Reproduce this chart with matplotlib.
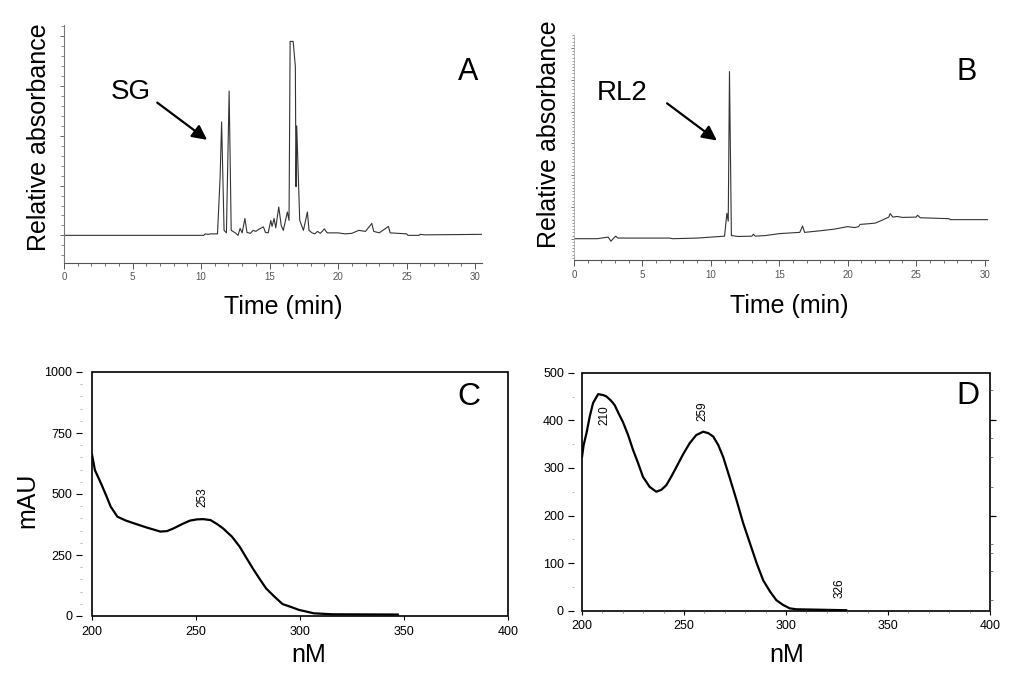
import matplotlib
matplotlib.use("Agg")
import matplotlib.pyplot as plt
from matplotlib.patches import Rectangle
from matplotlib.ticker import MultipleLocator, FixedLocator
import numpy as np

plt.rcParams['font.family'] = ['Liberation Sans', 'DejaVu Sans']

# ---------------- data ----------------
# Panel A chromatogram (time in min, relative absorbance in major-tick units)
a_time = [0, 10.2, 10.3, 10.5, 10.7, 11.2, 11.39, 11.5, 11.68, 11.85, 12.05, 12.2, 12.5, 12.7,
          12.85, 13.0, 13.2, 13.35, 13.6, 13.8, 14.0, 14.2, 14.55, 14.7, 14.9, 15.09, 15.18,
          15.33, 15.45, 15.67, 15.85, 16.0, 16.3, 16.42, 16.5, 16.72, 16.88, 16.93, 16.98,
          17.2, 17.47, 17.76, 17.88, 18.1, 18.3, 18.5, 18.7, 19.0, 19.2, 20.0, 20.5, 21.0,
          21.5, 22.0, 22.46, 22.6, 23.0, 23.67, 23.8, 25.0, 25.1, 25.9, 26.0, 26.3, 30.5]
a_abs = [0, 0, 0.03, 0.02, 0.03, 0.03, 1.16, 2.28, 0.1, 0.05, 2.9, 0.1, 0.05, 0.0,
         0.14, 0.05, 0.34, 0.06, 0.04, 0.1, 0.08, 0.12, 0.17, 0.06, 0.05, 0.3, 0.18,
         0.34, 0.15, 0.57, 0.2, 0.1, 0.47, 0.3, 3.9, 3.9, 3.4, 0.98, 2.2,
         0.3, 0.1, 0.47, 0.1, 0.05, 0.03, 0.08, 0.04, 0.13, 0.05, 0.05, 0.03, 0.04,
         0.1, 0.08, 0.24, 0.08, 0.05, 0.18, 0.05, 0.03, 0.0, 0.0, 0.02, 0.01, 0.02]

# Panel B chromatogram
b_time = [0, 1.7, 2.0, 2.5, 2.7, 2.9, 3.05, 3.2, 7.0, 7.2, 9.0, 11.0, 11.17, 11.27, 11.36,
          11.5, 12.0, 13.0, 13.1, 13.25, 14.0, 15.0, 16.5, 16.7, 16.85, 18.0, 19.0, 20.0,
          20.5, 20.8, 20.9, 21.5, 22.0, 22.5, 23.0, 23.1, 23.3, 23.6, 24.0, 25.0, 25.1,
          25.3, 27.4, 27.5, 30.3]
b_abs = [0, 0, 0.02, 0.05, -0.08, 0.02, 0.08, 0.02, 0.02, 0.0, 0.02, 0.08, 0.8, 0.55, 5.26,
         0.1, 0.07, 0.08, 0.14, 0.08, 0.1, 0.16, 0.2, 0.4, 0.2, 0.25, 0.3, 0.38,
         0.35, 0.38, 0.45, 0.47, 0.49, 0.58, 0.68, 0.79, 0.68, 0.7, 0.67, 0.68, 0.74,
         0.66, 0.63, 0.6, 0.6]

# Panel C UV spectrum (nm, mAU)
c_nm = [200, 201.4, 204.3, 206.7, 209, 212.2, 216.3, 220.1, 226.5, 232.9, 236.1, 239.2,
        243.4, 247.1, 250.5, 253.5, 257, 260.1, 263, 267.3, 271, 274.1, 277.3, 280.6,
        283.7, 288, 291.6, 296, 299.5, 306.7, 315.4, 347]
c_mau = [662, 598, 544, 496, 448, 407, 391, 380, 362, 346, 348, 359,
         377, 391, 396, 397, 393, 377, 359, 325, 284, 240, 195, 152,
         113, 77, 49, 36, 25, 11, 7, 6]

# Panel D UV spectrum (nm, mAU)
d_nm = [200, 200.8, 202.2, 203.8, 205.4, 207.9, 210.4, 212, 214.3, 216, 218, 220, 222.6,
        225, 227.5, 229.9, 233.2, 236.4, 238.9, 241.4, 243.8, 246.3, 249.6, 252.8, 256,
        259.4, 261.9, 264.3, 266.8, 269.2, 272.5, 275.7, 279, 282.3, 285.6, 288.8, 292.2,
        295.3, 298.6, 301.8, 304.9, 329.5]
d_mau = [323, 348, 373, 408, 436, 455, 453, 450, 441, 432, 414, 397, 369,
         338, 310, 281, 260, 250, 254, 264, 282, 302, 329, 352, 369,
         376, 373, 366, 348, 323, 278, 233, 184, 142, 100, 64, 40,
         22, 12, 5, 3, 1]

c_peaks = [(253, 486)]
d_peaks = [(211, 410), (259, 420), (326, 48)]
d_peak_labels = ['210', '259', '326']

# ---------------- figure ----------------
W, H = 1015, 684
fig = plt.figure(figsize=(W / 100, H / 100), dpi=100)

def frac(l, t, r, b):
    return [l / W, 1 - b / H, (r - l) / W, (b - t) / H]

gray_tick = '#555555'
LABEL_FS = 18
arrow_kw = dict(arrowstyle='-|>', lw=1.6, color='black', mutation_scale=22, shrinkA=0, shrinkB=0)

# ---- Panel A ----
axA = fig.add_axes(frac(64, 25, 482, 262.7))
axA.plot(a_time, a_abs, color='#333333', lw=0.8)
axA.set_xlim(0, 30.5)
axA.set_ylim(-0.55, 4.23)
for s in ['top', 'right']:
    axA.spines[s].set_visible(False)
axA.spines['left'].set_color('#777777')
axA.spines['bottom'].set_color('#555555')
axA.spines['left'].set_linewidth(0.8)
axA.spines['bottom'].set_linewidth(0.8)
axA.xaxis.set_major_locator(MultipleLocator(5))
axA.xaxis.set_minor_locator(MultipleLocator(1))
axA.yaxis.set_major_locator(MultipleLocator(1))
axA.yaxis.set_minor_locator(MultipleLocator(0.2))
axA.tick_params(axis='x', which='major', length=4, width=0.7, color='#555555', labelsize=7, labelcolor=gray_tick, pad=3)
axA.tick_params(axis='x', which='minor', length=2, width=0.6, color='#555555')
axA.tick_params(axis='y', which='major', length=3, width=0.7, color='#666666', labelleft=False)
axA.tick_params(axis='y', which='minor', length=2, width=0.6, color='#777777')
axA.text(-0.06, 0.53, 'Relative absorbance', rotation=90, ha='center', va='center',
         fontsize=LABEL_FS, transform=axA.transAxes)
axA.text(0.524, -0.186, 'Time (min)', ha='center', va='center', fontsize=LABEL_FS, transform=axA.transAxes)
axA.text(29.5, 3.29, 'A', ha='center', va='center', fontsize=22)
axA.text(4.9, 2.89, 'SG', ha='center', va='center', fontsize=20)
axA.annotate('', xy=(10.44, 1.92), xytext=(6.8, 2.67), arrowprops=arrow_kw)

# ---- Panel B ----
axB = fig.add_axes(frac(574, 35, 988, 260))
axB.plot(b_time, b_abs, color='#333333', lw=0.8)
axB.set_xlim(0, 30.25)
axB.set_ylim(-0.67, 6.41)
for s in ['top', 'right']:
    axB.spines[s].set_visible(False)
axB.spines['left'].set_color('#aaaaaa')
axB.spines['left'].set_linewidth(0.6)
axB.spines['bottom'].set_color('#555555')
axB.spines['bottom'].set_linewidth(0.8)
axB.xaxis.set_major_locator(MultipleLocator(5))
axB.xaxis.set_minor_locator(MultipleLocator(1))
axB.yaxis.set_major_locator(MultipleLocator(1))
axB.yaxis.set_minor_locator(MultipleLocator(0.1))
axB.tick_params(axis='x', which='major', length=4, width=0.7, color='#555555', labelsize=7, labelcolor=gray_tick, pad=3)
axB.tick_params(axis='x', which='minor', length=2, width=0.6, color='#555555')
axB.tick_params(axis='y', which='major', length=2.5, width=0.7, color='#777777', labelleft=False)
axB.tick_params(axis='y', which='minor', length=1.2, width=0.6, color='#888888')
axB.text(-0.06, 0.56, 'Relative absorbance', rotation=90, ha='center', va='center',
         fontsize=LABEL_FS, transform=axB.transAxes)
axB.text(0.52, -0.203, 'Time (min)', ha='center', va='center', fontsize=LABEL_FS, transform=axB.transAxes)
axB.text(28.7, 5.24, 'B', ha='center', va='center', fontsize=22)
axB.text(3.5, 4.57, 'RL2', ha='center', va='center', fontsize=20)
axB.annotate('', xy=(10.44, 3.09), xytext=(6.8, 4.26), arrowprops=arrow_kw)

# ---- Panel C ----
axC = fig.add_axes(frac(92, 372, 508, 616))
axC.plot(c_nm, c_mau, color='black', lw=1.6)
axC.set_xlim(200, 400)
axC.set_ylim(0, 1000)
for s in ['top', 'right', 'bottom', 'left']:
    axC.spines[s].set_visible(False)
axC.spines['left'].set_position(('outward', 7))
axC.add_patch(Rectangle((0, 0), 1, 1, transform=axC.transAxes, fill=False, lw=1.2, ec='black', clip_on=False))
axC.xaxis.set_major_locator(MultipleLocator(50))
axC.yaxis.set_major_locator(MultipleLocator(250))
axC.yaxis.set_minor_locator(MultipleLocator(50))
axC.tick_params(axis='x', which='major', length=3, width=0.8, labelsize=9, pad=4)
axC.tick_params(axis='y', which='major', length=4, width=0.8, labelsize=9, pad=3)
axC.tick_params(axis='y', which='minor', length=1.5, width=0.5, color='#999999')
axC.text(-0.155, 0.475, 'mAU', rotation=90, ha='center', va='center', fontsize=LABEL_FS, transform=axC.transAxes)
axC.text(0.52, -0.16, 'nM', ha='center', va='center', fontsize=LABEL_FS, transform=axC.transAxes)
axC.text(381, 897, 'C', ha='center', va='center', fontsize=23)
for x, y in c_peaks:
    axC.text(x, y, str(x), rotation=90, ha='center', va='center', fontsize=8.5)

# ---- Panel D ----
axD = fig.add_axes(frac(582, 372.7, 990, 610.7))
axD.plot(d_nm, d_mau, color='black', lw=1.6)
axD.set_xlim(200, 400)
axD.set_ylim(0, 500)
for s in ['top', 'right', 'bottom', 'left']:
    axD.spines[s].set_visible(False)
axD.spines['left'].set_position(('outward', 6))
axD.add_patch(Rectangle((0, 0), 1, 1, transform=axD.transAxes, fill=False, lw=1.2, ec='black', clip_on=False))
axD.xaxis.set_major_locator(MultipleLocator(50))
axD.xaxis.set_minor_locator(MultipleLocator(10))
axD.yaxis.set_major_locator(MultipleLocator(100))
axD.yaxis.set_minor_locator(MultipleLocator(50))
axD.tick_params(axis='x', which='major', length=3, width=0.8, labelsize=9, pad=4)
axD.tick_params(axis='x', which='minor', length=1.5, width=0.5, color='#777777')
axD.tick_params(axis='y', which='major', length=4, width=0.8, labelsize=9, pad=3)
axD.tick_params(axis='y', which='minor', length=1.5, width=0.5, color='#999999')
axD2 = axD.twinx()
axD2.set_ylim(0, 500)
for s in ['top', 'right', 'bottom', 'left']:
    axD2.spines[s].set_visible(False)
axD2.yaxis.set_major_locator(FixedLocator([200, 400]))
axD2.yaxis.set_minor_locator(FixedLocator([22, 83, 122, 141, 260, 322, 362, 464]))
axD2.tick_params(axis='y', which='major', length=4, width=0.9, labelright=False)
axD2.tick_params(axis='y', which='minor', length=2.5, width=0.6, color='#666666')
axD.text(0.502, -0.186, 'nM', ha='center', va='center', fontsize=LABEL_FS, transform=axD.transAxes)
axD.text(389, 451, 'D', ha='center', va='center', fontsize=23)
for (x, y), lab in zip(d_peaks, d_peak_labels):
    axD.text(x, y, lab, rotation=90, ha='center', va='center', fontsize=8.5)

fig.savefig('out.png', dpi=100)
